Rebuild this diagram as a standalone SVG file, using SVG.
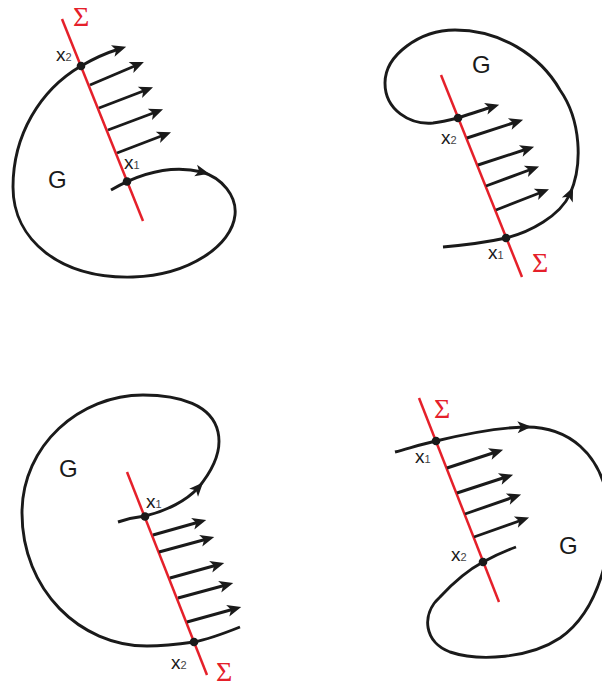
<svg xmlns="http://www.w3.org/2000/svg" width="602" height="688" viewBox="0 0 602 688">
<defs>
<marker id="ah" markerUnits="userSpaceOnUse" markerWidth="30" markerHeight="30" viewBox="-15 -15 30 30" refX="0" refY="0" orient="auto" overflow="visible">
<path d="M7.5,0 L-6.5,-6 L-3,0 L-6.5,6 Z" fill="#1a1a1a"/>
</marker>
<style>
.crv{fill:none;stroke:#1a1a1a;stroke-width:2.9}
.arr{fill:none;stroke:#1a1a1a;stroke-width:2.9;marker-end:url(#ah)}
.sig{stroke:#e5202a;stroke-width:2.5;fill:none}
.dot{fill:#1a1a1a}
.lbl{font-family:"Liberation Sans",Arial,sans-serif;font-size:19px;fill:#1a1a1a}
.sub{font-size:11px;fill:#444}
.g{font-family:"Liberation Sans",Arial,sans-serif;font-size:24px;fill:#1a1a1a}
.S{font-family:"Liberation Serif","Times New Roman",serif;font-size:28px;fill:#e5202a}
</style>
</defs>

<g id="panel1">
<path class="arr" d="M111,190 C130,179 165,163 202,172"/>
<path class="arr" d="M202,172 C222,178 237,196 235,215 C232,245 190,275 133,277 C60,279 13,240 13,187 C13,135 40,90 81,66 C93,59 106,53 119,49"/>
<line class="sig" x1="62" y1="19" x2="143" y2="221"/>
<circle class="dot" cx="81" cy="66" r="4.3"/>
<circle class="dot" cx="127" cy="181.5" r="4.3"/>
<text class="S" x="73" y="26">Σ</text>
<text class="lbl" x="56" y="61">x<tspan class="sub">2</tspan></text>
<text class="lbl" x="124" y="169">x<tspan class="sub">1</tspan></text>
<text class="g" x="48" y="188">G</text>
</g>

<g id="panel2">
<path class="arr" d="M443,247 C465,245 488,242 506,238 C530,232 560,216 570,194"/>
<path class="arr" d="M570,194 C583,165 581,120 560,90 C540,55 500,30 455,30 C420,30 385,55 385,83 C385,110 410,125 433,123 C442,122 450,120 458,118 C470,114 482,110 492,107"/>
<line class="sig" x1="441" y1="75" x2="522" y2="277"/>
<circle class="dot" cx="458" cy="118" r="4.3"/>
<circle class="dot" cx="506" cy="238" r="4.3"/>
<text class="S" x="532" y="272">Σ</text>
<text class="lbl" x="441" y="144">x<tspan class="sub">2</tspan></text>
<text class="lbl" x="488" y="259">x<tspan class="sub">1</tspan></text>
<text class="g" x="472" y="73">G</text>
</g>

<g id="panel3">
<path class="arr" d="M118,522 C127,519 136,517 145,516 C167,511 187,500 198,488"/>
<path class="crv" d="M198,488 C213,470 222,450 218,432 C212,405 180,395 143,395 C80,395 22,445 22,513 C22,590 80,646 147,646 C165,646 180,644 194,642 C210,639 225,633 240,627"/>
<line class="sig" x1="127" y1="472" x2="207" y2="675"/>
<circle class="dot" cx="145" cy="516.5" r="4.3"/>
<circle class="dot" cx="194" cy="642" r="4.3"/>
<text class="S" x="216" y="681">Σ</text>
<text class="lbl" x="146" y="508">x<tspan class="sub">1</tspan></text>
<text class="lbl" x="171" y="669">x<tspan class="sub">2</tspan></text>
<text class="g" x="59" y="477">G</text>
</g>

<g id="panel4">
<path class="arr" d="M395,452 C410,448 422,444 436,441 C465,434 495,428 524,427"/>
<path class="crv" d="M524,427 C570,426 600,455 608,500 C615,545 600,610 560,638 C530,658 480,662 450,652 C425,643 420,615 440,597 C452,584 468,570 483,562 C494,556 505,551 516,547"/>
<line class="sig" x1="419" y1="398" x2="499" y2="602"/>
<circle class="dot" cx="436" cy="441" r="4.3"/>
<circle class="dot" cx="483" cy="562" r="4.3"/>
<text class="S" x="434" y="418">Σ</text>
<text class="lbl" x="415" y="463">x<tspan class="sub">1</tspan></text>
<text class="lbl" x="451" y="561">x<tspan class="sub">2</tspan></text>
<text class="g" x="559" y="554">G</text>
</g>

<g id="connectors">
<line class="arr" x1="90" y1="85" x2="137" y2="65"/>
<line class="arr" x1="99" y1="108" x2="146" y2="90"/>
<line class="arr" x1="108" y1="130" x2="156" y2="112"/>
<line class="arr" x1="117" y1="153" x2="164" y2="135"/>

<line class="arr" x1="467" y1="138" x2="516" y2="122"/>
<line class="arr" x1="478" y1="165" x2="527" y2="149"/>
<line class="arr" x1="486" y1="186" x2="532" y2="169"/>
<line class="arr" x1="496" y1="210" x2="542" y2="192"/>

<line class="arr" x1="153" y1="535" x2="199" y2="522"/>
<line class="arr" x1="159" y1="552" x2="207" y2="539"/>
<line class="arr" x1="170" y1="578" x2="217" y2="565"/>
<line class="arr" x1="178" y1="598" x2="226" y2="585"/>
<line class="arr" x1="187" y1="622" x2="234" y2="609"/>

<line class="arr" x1="447" y1="468" x2="496" y2="452"/>
<line class="arr" x1="457" y1="493" x2="506" y2="477"/>
<line class="arr" x1="465" y1="514" x2="514" y2="497"/>
<line class="arr" x1="474" y1="537" x2="522" y2="520"/>
</g>
</svg>
